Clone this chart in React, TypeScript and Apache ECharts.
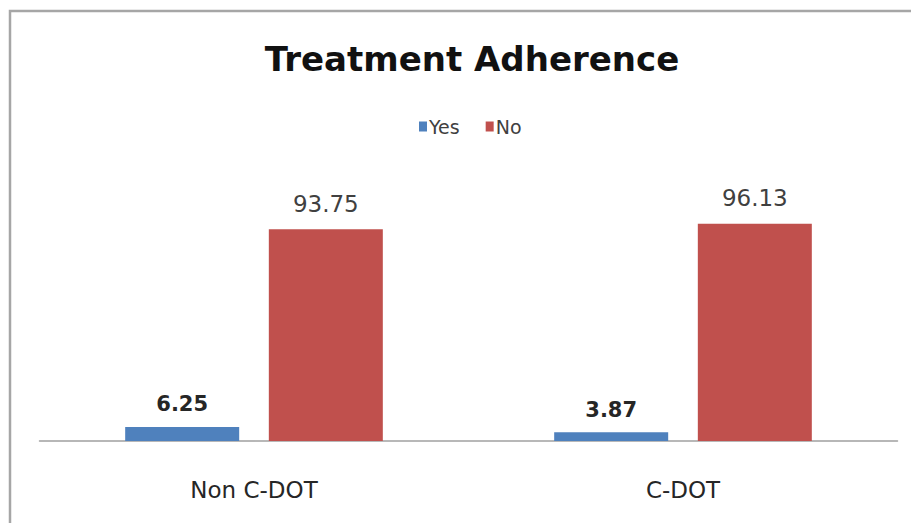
import React, { useEffect, useRef } from "react";
import * as echarts from "echarts";

const categories = ["Non C-DOT", "C-DOT"];
const yesValues = [6.25, 3.87];
const noValues = [93.75, 96.13];
const seriesNames = ["Yes", "No"];
const chartTitle = "Treatment Adherence";

export default function App() {
  const ref = useRef<HTMLDivElement>(null);
  useEffect(() => {
    if (!ref.current) return;
    const chart = echarts.init(ref.current, null, { renderer: "svg" });
    chart.setOption({
      animation: false,
      backgroundColor: "#ffffff",
      title: {
        text: chartTitle,
        left: 467,
        textAlign: "center",
        top: 37,
        textStyle: {
          fontFamily: "DejaVu Sans",
          fontWeight: "bold",
          fontSize: 34,
          color: "#111111",
        },
      },
      legend: {
        data: seriesNames,
        left: 414,
        top: 112,
        itemWidth: 8,
        itemHeight: 10,
        itemGap: 26,
        icon: "rect",
        textStyle: { fontFamily: "DejaVu Sans", fontSize: 19, color: "#404040", padding: [0, 0, 0, -3] },
      },
      graphic: [
        {
          type: "rect",
          shape: { x: 10, y: 11, width: 1000, height: 600 },
          style: { fill: "none", stroke: "#a6a6a6", lineWidth: 2.5 },
          z: -1,
          silent: true,
        },
      ],
      grid: { left: 39.5, right: 13.5, top: 215, bottom: 82 },
      xAxis: {
        type: "category",
        data: categories,
        axisLine: { lineStyle: { color: "#a0a0a0", width: 1.5 } },
        axisTick: { show: false },
        axisLabel: { fontFamily: "DejaVu Sans", fontSize: 23, color: "#262626", margin: 37 },
      },
      yAxis: {
        type: "value",
        min: 0,
        max: 100,
        show: false,
        splitLine: { show: false },
      },
      series: [
        {
          name: seriesNames[0],
          type: "bar",
          data: yesValues,
          barWidth: 114,
          barGap: "26%",
          itemStyle: { color: "#4F81BD" },
          label: {
            show: true,
            position: "top",
            distance: 12,
            fontFamily: "DejaVu Sans",
            fontWeight: "bold",
            fontSize: 21,
            color: "#262626",
          },
        },
        {
          name: seriesNames[1],
          type: "bar",
          data: noValues,
          barWidth: 114,
          barGap: "26%",
          itemStyle: { color: "#C0504D" },
          label: {
            show: true,
            position: "top",
            distance: 14,
            fontFamily: "DejaVu Sans",
            fontSize: 23,
            color: "#404040",
          },
        },
      ],
    });
    return () => chart.dispose();
  }, []);
  return (
    <div
      ref={ref}
      style={{ position: "fixed", left: 0, top: 0, width: 911, height: 523, background: "#fff" }}
    />
  );
}
